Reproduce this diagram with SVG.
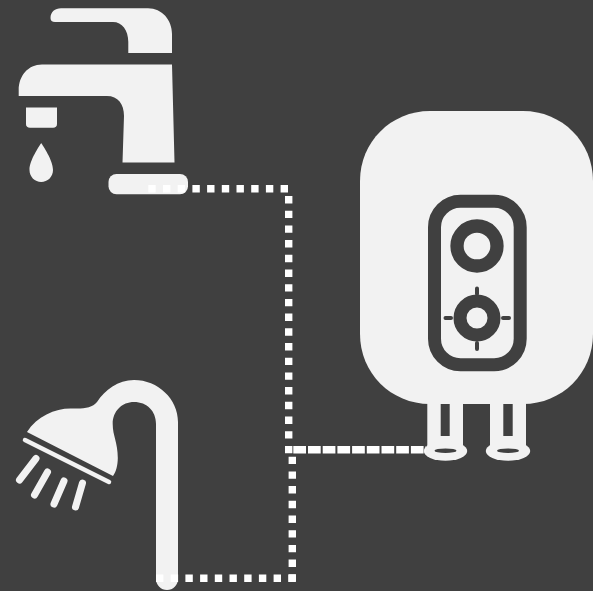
<svg xmlns="http://www.w3.org/2000/svg" width="593" height="591" viewBox="0 0 593 591">
<style>
.f{fill:#f2f2f2}
.d{fill:#404040}
.ln{fill:none;stroke:#f2f2f2;stroke-linecap:round}
.tick{fill:none;stroke:#404040;stroke-width:4;stroke-linecap:round}
.dot{fill:none;stroke:#fff;stroke-width:7.4;stroke-dasharray:7.4 7.3}
.dash{fill:none;stroke:#fff;stroke-width:7.4;stroke-dasharray:12.7 2}
</style>
<rect width="593" height="591" fill="#404040"/>
<g id="faucet">
<path class="f" d="M50.500 18C50.500 12 55 8.300 61 8.300H148C162 8.300 172 20 172 34V53H128.300V42C128.300 30 122 22 113 22H55C52 22 50.500 20.500 50.500 18Z"/>
<path class="f" d="M172 64.500L174.500 162.500H122.500L124 116C124 104 118 96 107 96H18.700V90C18.700 76 28 64.500 42 64.500Z"/>
<path class="f" d="M26 107.500H57V124C57 126.500 55.500 127.800 53 127.800H30C27.500 127.800 26 126.500 26 124Z"/>
<path class="f" d="M41.200 143C43 146 53 160 53 170C53 177 47.500 182 41.200 182C35 182 29.500 177 29.500 170C29.500 160 39.500 146 41.200 143Z"/>
<rect class="f" x="108.500" y="174" width="79.500" height="20.300" rx="8"/>
</g>
<g id="shower">
<path class="f" d="M178 422V579A11 11 0 0 1 156 579V424C156 411 147 402 134 402C122 402 112.700 411 112.700 424C112.700 436 117.800 442 117.800 458C117.800 465 116 472 113 476L27 432C37 416 56 408 72 408.500C84 409 92 408 97 402C105 390 118 380 134 380C158 380 178 399 178 422Z"/>
<path class="ln" stroke-width="4.500" d="M25 440L109 482"/>
<path class="ln" stroke-width="7" d="M36 458.500L19.500 480M47.500 472L34.500 495M64 481L54 504M82.500 483L75.500 507"/>
</g>
<g id="heater">
<path class="f" d="M430 111H523C562 111 593 142 593 181V334C593 373 562 404 523 404H430C391 404 360 373 360 334V181C360 142 391 111 430 111Z"/>
<rect class="f" x="427.300" y="400" width="35.700" height="50"/>
<rect class="f" x="490" y="400" width="36" height="50"/>
<rect class="d" x="440.700" y="404" width="9" height="32"/>
<rect class="d" x="503.300" y="404" width="9.400" height="32"/>
<ellipse class="f" cx="445.500" cy="451" rx="21.700" ry="9.800"/>
<ellipse class="f" cx="508" cy="451" rx="22.200" ry="9.800"/>
<ellipse class="d" cx="445.500" cy="450.700" rx="11" ry="2.300"/>
<ellipse class="d" cx="508" cy="450.700" rx="11" ry="2.300"/>
<rect x="434.500" y="201.300" width="85.700" height="163.400" rx="26" fill="none" stroke="#404040" stroke-width="13"/>
<circle cx="477" cy="246" r="20" fill="none" stroke="#404040" stroke-width="13.300"/>
<circle cx="477" cy="318" r="17" fill="none" stroke="#404040" stroke-width="13"/>
<path class="tick" d="M477 288.500V294M477 343V349M445.500 318H451M503 318H509"/>
</g>
<g id="connectors">
<path class="dot" d="M148.300 188.700H288"/>
<path class="dot" d="M288.700 196V453.300"/>
<path class="dash" d="M293.300 449.700H426"/>
<path class="dot" d="M292.300 456.700V582"/>
<path class="dot" d="M156 578.300H296"/>
</g>
</svg>
